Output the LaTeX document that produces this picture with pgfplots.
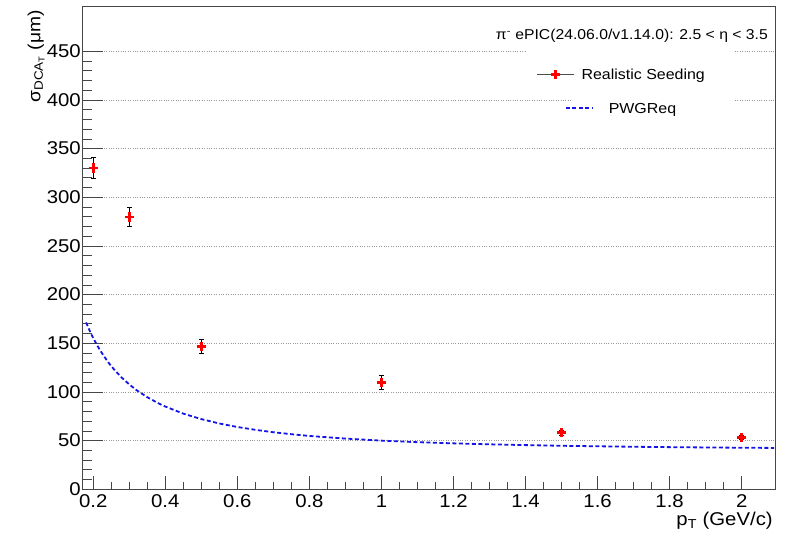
\documentclass[border=0pt]{standalone}
\usepackage{fontspec}
\setmainfont[FakeStretch=1.1]{Liberation Sans}
\usepackage{pgfplots}
\pgfplotsset{compat=1.18}
\definecolor{axgray}{RGB}{70,70,70}
\definecolor{rootblue}{RGB}{20,20,230}
\begin{document}
\begin{tikzpicture}
\useasboundingbox (-82.3bp,-50.7bp) rectangle (708.7bp,489.3bp);
\begin{axis}[
  width=692.7bp, height=483.3bp, scale only axis,
  xmin=0.1695, xmax=2.0925, ymin=0, ymax=496.5,
  xtick={0.2,0.4,...,2.01}, ytick={0,50,...,450},
  xticklabels={0.2,0.4,0.6,0.8,1,1.2,1.4,1.6,1.8,2},
  minor x tick num=3, minor y tick num=4,
  tick pos=left, tick align=inside,
  xtick style={/pgfplots/major tick length=13bp,/pgfplots/minor tick length=7bp, axgray, line width=0.7bp},
  ytick style={/pgfplots/major tick length=21bp,/pgfplots/minor tick length=10bp, axgray, line width=0.7bp},
  axis line style={axgray, line width=0.7bp},
  ymajorgrids, grid style={gray!80, dotted, line width=0.5bp},
  /pgf/number format/assume math mode=true,
  ticklabel style={font=\fontsize{18.5bp}{22bp}\selectfont},
  yticklabel style={xshift=2bp},
  xticklabel style={yshift=-1.5bp},
  xlabel={p\textsubscript{T} (GeV/c)},
  xlabel style={at={(rel axis cs:0.997,-0.0745)}, anchor=base east, inner sep=0pt, font=\fontsize{18.5bp}{22bp}\selectfont},
  ylabel={σ\textsubscript{DCA\textsubscript{T}} (μm)},
  ylabel style={at={(rel axis cs:-0.0606,0.9917)}, anchor=base east, rotate=0, inner sep=0pt, font=\fontsize{17.5bp}{21bp}\selectfont},
  legend style={at={(rel axis cs:0.6564,0.8705)}, anchor=north west, draw=none, fill=none, inner sep=0pt, outer sep=0pt,
    font=\fontsize{14.5bp}{17bp}\selectfont, column sep=7bp,
    nodes={inner sep=0pt, text height=10.4bp, text depth=1bp}},
]
\fill[white] (axis cs:1.404,444) rectangle (axis cs:1.981,456);
\fill[white] (axis cs:1.529,394) rectangle (axis cs:1.981,406);
\addplot[only marks, mark=+, mark size=4.7bp, mark options={red, line width=2.7bp},
  error bars/.cd, y dir=both, y explicit,
  error bar style={black, line width=0.6bp},
  error mark options={black, rotate=90, mark size=2.5bp, line width=0.6bp}]
  [legend image code/.code={
  \draw[black!70,line width=0.6bp] (0bp,0bp) -- (37bp,0bp);
  \draw[red,line width=2.7bp] (18.5bp,-4.7bp) -- (18.5bp,4.7bp) (13.8bp,0bp) -- (23.2bp,0bp);}]
  coordinates {
  (0.2,330.1) +- (0,10.8)
  (0.3,279.8) +- (0,10.0)
  (0.5,146.9) +- (0,7.5)
  (1.0,109.9) +- (0,6.8)
  (1.5,58.2) +- (0,2.5)
  (2.0,53.4) +- (0,2.2)
  };
\addlegendentry{Realistic Seeding}
\addplot[rootblue, line width=1.8bp, dash pattern=on 4bp off 2.5bp, forget plot] coordinates {
  (0.18,171.4) (0.19,162.9) (0.2,155.2) (0.21,148.4) (0.22,142.1) (0.24,131.2)
  (0.25,126.5) (0.26,122.1) (0.28,114.4) (0.3,107.7) (0.32,101.9) (0.35,94.6)
  (0.38,88.5) (0.4,85.0) (0.45,77.7) (0.5,72.1) (0.55,67.6) (0.6,64.0)
  (0.65,61.1) (0.7,58.6) (0.75,56.6) (0.8,54.8) (0.9,52.1) (1.0,50.0)
  (1.1,48.4) (1.2,47.2) (1.3,46.2) (1.4,45.4) (1.5,44.7) (1.6,44.2)
  (1.7,43.7) (1.8,43.3) (1.9,43.0) (2.0,42.7) (2.09,42.5)
  };
\node[anchor=base east, inner sep=0pt, font=\fontsize{14.3bp}{17bp}\selectfont] at (rel axis cs:0.9899,0.9297)
  {π\textsuperscript{-} ePIC(24.06.0/v1.14.0): 2.5 < η < 3.5};
\end{axis}
\begin{axis}[
  width=692.7bp, height=483.3bp, scale only axis, hide axis,
  xmin=0, xmax=1, ymin=0, ymax=1,
  legend style={at={(rel axis cs:0.6968,0.8001)}, anchor=north west, draw=none, fill=none, inner sep=0pt, outer sep=0pt,
    font=\fontsize{14.5bp}{17bp}\selectfont, column sep=15bp,
    nodes={inner sep=0pt, text height=10.4bp, text depth=1bp}},
]
\addlegendimage{legend image code/.code={
  \draw[rootblue, line width=1.8bp, dash pattern=on 4bp off 2.5bp] (0bp,0bp) -- (27bp,0bp);}}
\addlegendentry{PWGReq}
\end{axis}
\end{tikzpicture}
\end{document}
